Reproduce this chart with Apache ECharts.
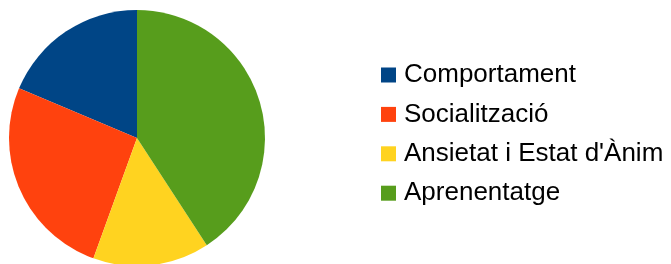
<!DOCTYPE html>
<html>
<head>
<meta charset="utf-8">
<script src="https://cdn.jsdelivr.net/npm/echarts@6/dist/echarts.min.js"></script>
<style>html,body{margin:0;padding:0;background:#fff;}#c{width:671px;height:264px;}</style>
</head>
<body>
<div id="c"></div>
<script>
const categories = ["Comportament", "Socialització", "Ansietat i Estat d'Ànim", "Aprenentatge"];
const values = [18.65, 25.8, 14.7, 40.8];
const colors = ["#004586", "#ff420e", "#ffd320", "#579d1c"];

const chart = echarts.init(document.getElementById('c'), null, {renderer: 'canvas'});
chart.setOption({
  animation: false,
  backgroundColor: '#ffffff',
  color: colors,
  legend: {
    orient: 'vertical',
    left: 381,
    top: 62,
    itemWidth: 15,
    itemHeight: 15,
    itemGap: 13.4,
    icon: 'rect',
    padding: 0,
    textStyle: {fontFamily: 'Liberation Sans', fontSize: 26, color: '#000', padding: [0,0,0,3]},
    data: categories
  },
  series: [{
    type: 'pie',
    center: [137, 138],
    radius: [0, 128],
    startAngle: 90,
    clockwise: false,
    label: {show: false},
    labelLine: {show: false},
    emphasis: {disabled: true},
    itemStyle: {borderWidth: 0},
    data: categories.map((n, i) => ({name: n, value: values[i]}))
  }]
});
</script>
</body>
</html>
